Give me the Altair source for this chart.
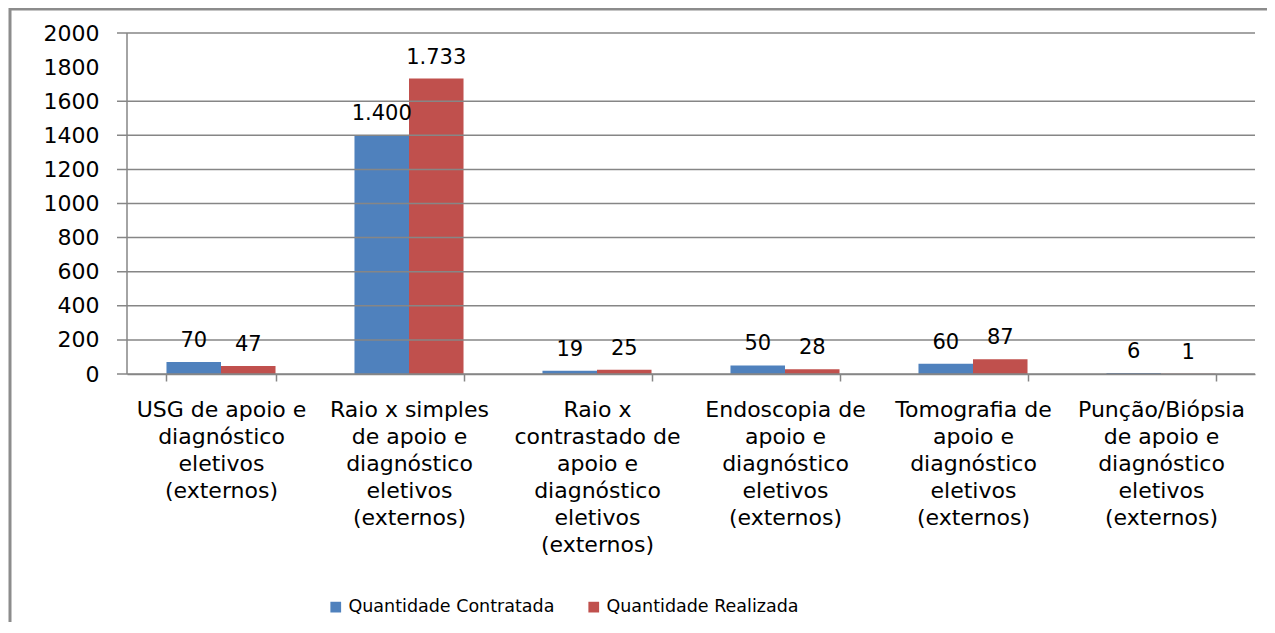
import altair as alt
import pandas as pd

categories = [
    "USG de apoio e\ndiagnóstico\neletivos\n(externos)",
    "Raio x simples\nde apoio e\ndiagnóstico\neletivos\n(externos)",
    "Raio x\ncontrastado de\napoio e\ndiagnóstico\neletivos\n(externos)",
    "Endoscopia de\napoio e\ndiagnóstico\neletivos\n(externos)",
    "Tomografia de\napoio e\ndiagnóstico\neletivos\n(externos)",
    "Punção/Biópsia\nde apoio e\ndiagnóstico\neletivos\n(externos)",
]
series = ["Quantidade Contratada", "Quantidade Realizada"]
contratada = [70, 1400, 19, 50, 60, 6]
realizada = [47, 1733, 25, 28, 87, 1]
y_ticks = [0, 200, 400, 600, 800, 1000, 1200, 1400, 1600, 1800, 2000]
grid_values = [0, 200, 400, 600, 800, 1000, 1200, 1400, 1600, 2000]
colors = ["#4F81BD", "#C0504D"]

rows = []
for c, a, b in zip(categories, contratada, realizada):
    rows.append({"cat": c, "serie": series[0], "valor": a})
    rows.append({"cat": c, "serie": series[1], "valor": b})
df = pd.DataFrame(rows)
df["rotulo"] = df["valor"].map(lambda v: f"{v:,}".replace(",", "."))

W, H = 1128, 341
FONT = "DejaVu Sans"
GRID = "#868686"

yscale = alt.Scale(domain=[0, 2000], nice=False)
xscale = alt.Scale(paddingInner=0.42, paddingOuter=0.21)

x_axis = alt.Axis(
    title=None, orient="bottom", labelAngle=0, labelExpr="split(datum.label, '\\n')",
    labelFont=FONT, labelFontSize=22, labelColor="black", labelLineHeight=27,
    labelPadding=18, labelLimit=0, labelOverlap=False, labelBound=False,
    tickBand="extent", tickSize=7, tickColor=GRID, tickWidth=1.5,
    domainColor=GRID, domainWidth=1.5, grid=False,
)
y_axis = alt.Axis(
    title=None, orient="left", values=y_ticks, format="d", ticks=False, tickSize=0,
    labelFont=FONT, labelFontSize=22, labelColor="black", labelPadding=28,
    grid=False, domain=False,
)

X = alt.X("cat:N", sort=categories, scale=xscale, axis=x_axis)
Y = alt.Y("valor:Q", scale=yscale, axis=y_axis)
XO = alt.XOffset("serie:N", sort=series)

grid = alt.Chart(pd.DataFrame({"valor": grid_values})).mark_rule(
    color=GRID, strokeWidth=1.5
).encode(
    y=Y, x=alt.value(-10), x2=alt.value(W),
)

bars = alt.Chart(df).mark_bar().encode(
    x=X, xOffset=XO, y=Y,
    color=alt.Color(
        "serie:N", scale=alt.Scale(domain=series, range=colors),
        legend=alt.Legend(
            title=None, orient="none", legendX=200, legendY=565, direction="horizontal",
            symbolType="square", symbolSize=115, symbolStrokeWidth=0,
            labelFont=FONT, labelFontSize=17.5, labelColor="black", labelOffset=4,
            labelLimit=0, columnPadding=30, padding=0,
        ),
    ),
)

labels = alt.Chart(df).mark_text(
    font=FONT, fontSize=21, color="black", baseline="alphabetic", dy=-15
).encode(
    x=X, xOffset=XO, y=Y, text="rotulo:N",
)

frame_df = pd.DataFrame({"k": [0]})
y_line = alt.Chart(frame_df).mark_rule(color=GRID, strokeWidth=1.5).encode(
    x=alt.value(0), y=alt.value(0), y2=alt.value(H)
)
frame_top = alt.Chart(frame_df).mark_rule(color="#8C8C8C", strokeWidth=3).encode(
    x=alt.value(-117), x2=alt.value(W + 40), y=alt.value(-24)
)
frame_left = alt.Chart(frame_df).mark_rule(color="#8C8C8C", strokeWidth=3).encode(
    x=alt.value(-117), y=alt.value(-25), y2=alt.value(H + 300)
)

chart = alt.layer(bars, grid, labels, y_line, frame_top, frame_left).properties(
    width=W, height=H,
    autosize=alt.AutoSizeParams(type="none"),
    padding={"left": 119, "top": 25, "right": 12, "bottom": 248},
).configure(background="white").configure_view(strokeWidth=0, stroke="transparent")

chart.save("out.html", embed_options={"renderer": "svg", "actions": False})
